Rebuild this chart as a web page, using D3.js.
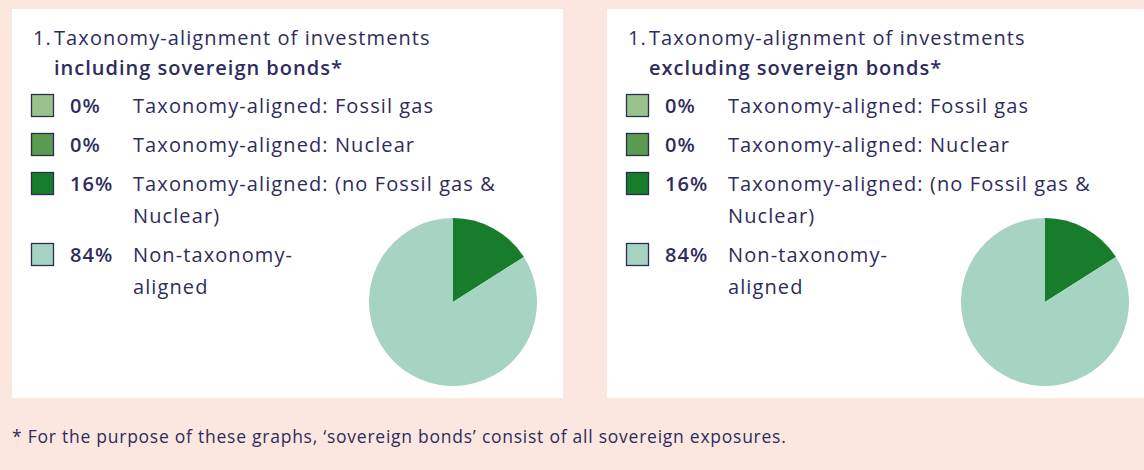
<!DOCTYPE html>
<html>
<head>
<meta charset="utf-8">
<script src="https://cdn.jsdelivr.net/npm/d3@7"></script>
<style>
  body { margin: 0; background: #fbe7df; }
  svg { display: block; }
  text { font-family: "Open Sans", Roboto, sans-serif; fill: #2e2c5c; }
  .panel text { letter-spacing: 1.1px; }
</style>
</head>
<body>
<div id="chart"></div>
<script>
// data
const categories = ["Taxonomy-aligned: Fossil gas", "Taxonomy-aligned: Nuclear",
  "Taxonomy-aligned: (no Fossil gas & Nuclear)", "Non-taxonomy-aligned"];
const labelLines = [["Taxonomy-aligned: Fossil gas"], ["Taxonomy-aligned: Nuclear"],
  ["Taxonomy-aligned: (no Fossil gas &", "Nuclear)"], ["Non-taxonomy-", "aligned"]];
const includingSovereign = [0, 0, 16, 84];
const excludingSovereign = [0, 0, 16, 84];
const panelTitles = ["including sovereign bonds*", "excluding sovereign bonds*"];
const sliceColors = ["#99c38b", "#5b9b50", "#177d2a", "#a7d4c2"];
const footnote = "* For the purpose of these graphs, \u2018sovereign bonds\u2019 consist of all sovereign exposures.";

const width = 1144, height = 470;

const svg = d3.select("#chart").append("svg")
    .attr("width", width)
    .attr("height", height);

const color = d3.scaleOrdinal().domain(categories).range(sliceColors);

// legend rows (top of square)
const rowY = [94, 133, 172, 243];

function drawPanel(x0, pieX, subtitle, values) {
    const g = svg.append("g")
        .attr("class", "panel")
        .attr("transform", "translate(" + x0 + ",0)");

    g.append("rect")
        .attr("x", 0).attr("y", 9)
        .attr("width", 551).attr("height", 389)
        .attr("fill", "#ffffff");

    // title
    g.append("text").attr("x", 21).attr("y", 45)
        .style("font-size", "20px")
        .text("1.");
    g.append("text").attr("x", 42).attr("y", 45)
        .style("font-size", "20px")
        .text("Taxonomy-alignment of investments");
    g.append("text").attr("x", 42).attr("y", 75)
        .style("font-size", "20px")
        .style("font-weight", 600)
        .style("letter-spacing", "1px")
        .text(subtitle);

    const data = categories.map((c, i) => ({ cat: c, value: values[i], lines: labelLines[i] }));

    const legend = g.selectAll(".legend")
        .data(data)
        .enter().append("g")
        .attr("class", "legend")
        .attr("transform", (d, i) => "translate(0," + rowY[i] + ")");

    legend.append("rect")
        .attr("x", 19.5).attr("y", 0.5)
        .attr("width", 22).attr("height", 22)
        .attr("fill", d => color(d.cat))
        .attr("stroke", "#2b2d55")
        .attr("stroke-width", 1.3);

    legend.append("text")
        .attr("x", 58).attr("y", 19)
        .style("font-size", "20px")
        .style("font-weight", 600)
        .text(d => d.value + "%");

    legend.append("text")
        .attr("x", 121).attr("y", 19)
        .style("font-size", "20px")
        .selectAll("tspan")
        .data(d => d.lines)
        .enter().append("tspan")
        .attr("x", 121)
        .attr("dy", (d, i) => i === 0 ? 0 : 32)
        .text(d => d);

    // pie
    const pie = d3.pie().sort(null).value(d => d.value)(data);
    const arc = d3.arc().innerRadius(0).outerRadius(84);

    g.append("g")
        .attr("transform", "translate(" + pieX + ",302)")
        .selectAll("path")
        .data(pie)
        .enter().append("path")
        .attr("d", arc)
        .attr("fill", d => color(d.data.cat));
}

drawPanel(12, 441, panelTitles[0], includingSovereign);
drawPanel(607, 438, panelTitles[1], excludingSovereign);

svg.append("text")
    .attr("x", 12).attr("y", 443)
    .style("font-size", "17.5px")
    .style("letter-spacing", "0.75px")
    .text(footnote);
</script>
</body>
</html>
